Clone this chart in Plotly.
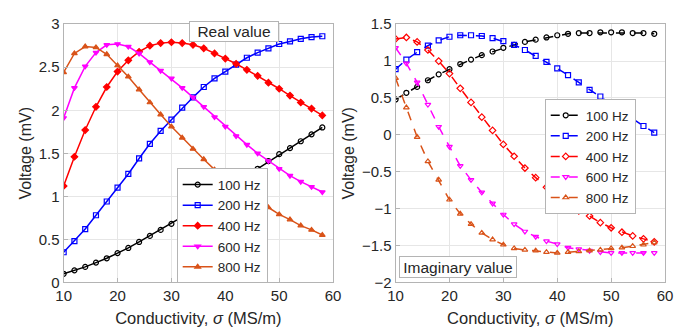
import plotly.graph_objects as go

sigma = [10, 12, 14, 16, 18, 20, 22, 24, 26, 28, 30, 32, 34, 36, 38, 40, 42, 44, 46, 48, 50, 52, 54, 56, 58]
labels = ["100 Hz", "200 Hz", "400 Hz", "600 Hz", "800 Hz"]

real_100 = [0.10, 0.14, 0.18, 0.23, 0.28, 0.34, 0.40, 0.47, 0.54, 0.61, 0.68, 0.76, 0.84, 0.92, 1.00, 1.08, 1.16, 1.24, 1.32, 1.41, 1.49, 1.56, 1.64, 1.72, 1.80]
real_200 = [0.35, 0.48, 0.62, 0.78, 0.94, 1.10, 1.26, 1.44, 1.61, 1.76, 1.89, 2.03, 2.15, 2.27, 2.37, 2.45, 2.53, 2.61, 2.67, 2.72, 2.77, 2.80, 2.83, 2.85, 2.86]
real_400 = [1.12, 1.46, 1.77, 2.04, 2.27, 2.45, 2.58, 2.68, 2.75, 2.78, 2.79, 2.78, 2.76, 2.72, 2.66, 2.60, 2.54, 2.47, 2.40, 2.32, 2.25, 2.17, 2.09, 2.02, 1.94]
real_600 = [1.91, 2.26, 2.51, 2.67, 2.76, 2.77, 2.74, 2.66, 2.56, 2.46, 2.37, 2.26, 2.15, 2.04, 1.92, 1.81, 1.70, 1.60, 1.50, 1.41, 1.32, 1.24, 1.17, 1.11, 1.05]
real_800 = [2.44, 2.66, 2.74, 2.73, 2.65, 2.52, 2.39, 2.24, 2.09, 1.95, 1.81, 1.68, 1.55, 1.43, 1.31, 1.20, 1.11, 1.02, 0.94, 0.87, 0.79, 0.73, 0.66, 0.61, 0.55]

imag_100 = [0.48, 0.57, 0.65, 0.74, 0.82, 0.89, 0.96, 1.02, 1.08, 1.13, 1.18, 1.22, 1.26, 1.29, 1.32, 1.35, 1.37, 1.38, 1.38, 1.39, 1.39, 1.39, 1.38, 1.38, 1.37]
imag_200 = [0.89, 1.02, 1.12, 1.21, 1.28, 1.33, 1.35, 1.35, 1.34, 1.31, 1.27, 1.22, 1.15, 1.07, 0.99, 0.90, 0.81, 0.71, 0.61, 0.52, 0.42, 0.32, 0.22, 0.12, 0.03]
imag_400 = [1.30, 1.32, 1.26, 1.15, 1.00, 0.83, 0.63, 0.44, 0.24, 0.06, -0.13, -0.29, -0.45, -0.58, -0.71, -0.83, -0.93, -1.03, -1.10, -1.19, -1.26, -1.32, -1.37, -1.41, -1.45]
imag_600 = [1.18, 0.97, 0.71, 0.41, 0.11, -0.16, -0.42, -0.61, -0.78, -0.93, -1.08, -1.21, -1.31, -1.38, -1.44, -1.48, -1.53, -1.55, -1.57, -1.59, -1.60, -1.60, -1.60, -1.60, -1.60]
imag_800 = [0.77, 0.37, -0.03, -0.36, -0.61, -0.88, -1.07, -1.21, -1.33, -1.42, -1.49, -1.54, -1.56, -1.57, -1.59, -1.60, -1.59, -1.58, -1.57, -1.56, -1.54, -1.53, -1.51, -1.49, -1.46]

colors = ["#000000", "#0000FF", "#FF0000", "#FF00FF", "#D95319"]
sym_left = ["circle-open", "square-open", "diamond", "triangle-down", "triangle-up"]
sym_right = ["circle-open", "square-open", "diamond-open", "triangle-down-open", "triangle-up-open"]

real_series = [real_100, real_200, real_400, real_600, real_800]
imag_series = [imag_100, imag_200, imag_400, imag_600, imag_800]

FONT = "Liberation Sans, Arial, sans-serif"
TXT = "#262626"
FRAME = "#b4b4b4"

fig = go.Figure()
for i in range(5):
    fig.add_trace(go.Scatter(
        x=sigma, y=real_series[i], name=labels[i], mode="lines+markers",
        line=dict(color=colors[i], width=1.5),
        marker=dict(symbol=sym_left[i], size=5, color=colors[i], line=dict(width=1.2, color=colors[i])),
        xaxis="x", yaxis="y", legend="legend"))
for i in range(5):
    fig.add_trace(go.Scatter(
        x=sigma, y=imag_series[i], name=labels[i], mode="lines+markers",
        line=dict(color=colors[i], width=1.5, dash="dash"),
        marker=dict(symbol=sym_right[i], size=5, color=colors[i], line=dict(width=1.2, color=colors[i])),
        xaxis="x2", yaxis="y2", legend="legend2"))

axis_common = dict(
    showgrid=True, gridcolor="#e6e6e6", gridwidth=1,
    showline=True, linecolor=FRAME, linewidth=1, mirror=True,
    ticks="inside", ticklen=4, tickcolor=FRAME,
    zeroline=False,
    tickfont=dict(family=FONT, size=15, color=TXT),
)
xtitle = dict(text="Conductivity, <i>σ</i> (MS/m)", font=dict(family=FONT, size=16.5, color=TXT), standoff=9)
ytitle = dict(text="Voltage (mV)", font=dict(family=FONT, size=16, color=TXT), standoff=3)

ydom = [1 - 288 / 335, 1 - 16 / 335]
legend_common = dict(xanchor="right", yanchor="bottom",
                     bgcolor="white", bordercolor=FRAME, borderwidth=1,
                     font=dict(family=FONT, size=13.5, color=TXT), tracegroupgap=0,
                     itemwidth=30)
fig.update_layout(
    width=674, height=335,
    margin=dict(l=0, r=0, t=0, b=0),
    paper_bgcolor="white", plot_bgcolor="white",
    font=dict(family=FONT, color=TXT),
    xaxis=dict(domain=[57 / 674, 333 / 674], range=[10, 60], dtick=10, title=xtitle, anchor="y", **axis_common),
    yaxis=dict(domain=ydom, range=[0, 3], dtick=0.5, title=ytitle, anchor="x", **axis_common),
    xaxis2=dict(domain=[397 / 674, 673 / 674], range=[10, 60], dtick=10, title=xtitle, anchor="y2", **axis_common),
    yaxis2=dict(domain=ydom, range=[-2, 1.5], dtick=0.5, title=ytitle, anchor="x2", **axis_common),
    legend=dict(x=266 / 674, y=1 - 289 / 335, **legend_common),
    legend2=dict(x=643 / 674, y=1 - 216 / 335, **legend_common),
    showlegend=True,
    annotations=[
        dict(text="Real value", x=232 / 674, y=1 - 24 / 335, xref="paper", yref="paper",
             xanchor="center", yanchor="middle",
             showarrow=False, font=dict(family=FONT, size=15.5, color=TXT),
             width=86, height=17, borderpad=1,
             bgcolor="white", bordercolor=FRAME, borderwidth=1),
        dict(text="Imaginary value", x=461 / 674, y=1 - 272 / 335, xref="paper", yref="paper",
             xanchor="center", yanchor="middle",
             showarrow=False, font=dict(family=FONT, size=15.5, color=TXT),
             width=114, height=18, borderpad=1,
             bgcolor="white", bordercolor=FRAME, borderwidth=1),
    ],
)

fig.write_html("out.html")
